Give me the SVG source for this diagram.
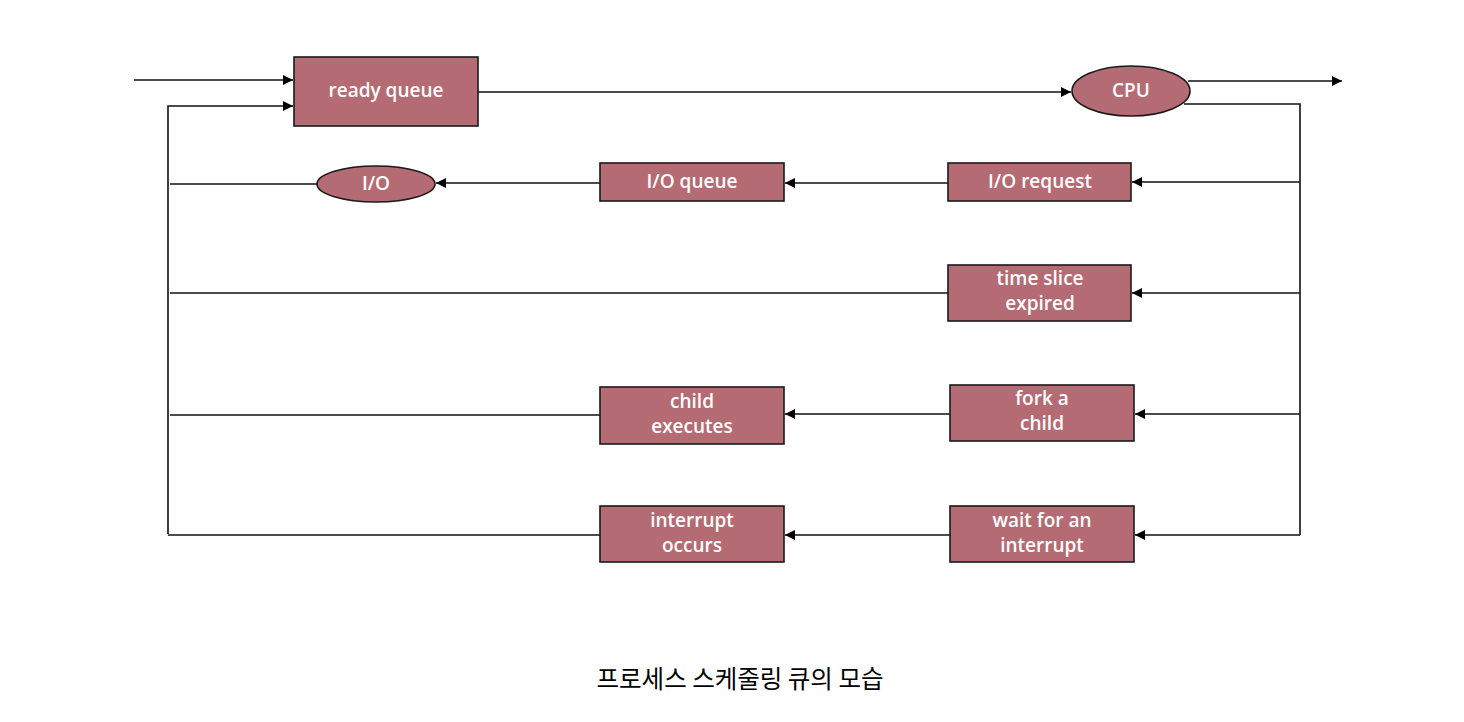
<svg xmlns="http://www.w3.org/2000/svg" width="1464" height="722" viewBox="0 0 1464 722">
<style>
.box{fill:#b56b73;stroke:#1a1a1a;stroke-width:1.6}
.lbl{font-family:"Open Sans","Noto Sans",sans-serif;font-weight:600;font-size:19px;fill:#ffffff;text-anchor:middle}
.ln{fill:none;stroke:#111;stroke-width:1.6}
.cap{font-family:"Noto Sans CJK KR","Noto Sans",sans-serif;font-size:24.5px;fill:#000;text-anchor:middle}
</style>
<defs>
<marker id="ah" viewBox="0 0 10 10" refX="10" refY="5" markerWidth="10" markerHeight="10" markerUnits="userSpaceOnUse" orient="auto">
<path d="M0,0 L10,5 L0,10 z" fill="#000"/>
</marker>
</defs>
<rect width="1464" height="722" fill="#fff"/>
<g id="connectors">
<path class="ln" d="M134,80 H293" marker-end="url(#ah)"/>
<path class="ln" d="M168,534 V106 H293" marker-end="url(#ah)"/>
<path class="ln" d="M478,92 H1071" marker-end="url(#ah)"/>
<path class="ln" d="M1188,81 H1342" marker-end="url(#ah)"/>
<path class="ln" d="M1184,104 H1300 V535"/>
<path class="ln" d="M1300,182 H1132" marker-end="url(#ah)"/>
<path class="ln" d="M948,183 H785" marker-end="url(#ah)"/>
<path class="ln" d="M600,183 H436" marker-end="url(#ah)"/>
<path class="ln" d="M317,184 H170"/>
<path class="ln" d="M1300,293 H1132" marker-end="url(#ah)"/>
<path class="ln" d="M948,293 H170"/>
<path class="ln" d="M1300,414 H1135" marker-end="url(#ah)"/>
<path class="ln" d="M950,414 H785" marker-end="url(#ah)"/>
<path class="ln" d="M600,415 H170"/>
<path class="ln" d="M1300,535 H1135" marker-end="url(#ah)"/>
<path class="ln" d="M950,535 H785" marker-end="url(#ah)"/>
<path class="ln" d="M600,535 H168"/>
</g>
<g id="ready-queue">
<rect class="box" x="294" y="57" width="184" height="69"/>
<text class="lbl" x="386" y="97">ready queue</text>
</g>
<g id="cpu">
<ellipse class="box" cx="1131" cy="91" rx="59" ry="25"/>
<text class="lbl" x="1131" y="97">CPU</text>
</g>
<g id="io-request">
<rect class="box" x="948" y="163" width="183" height="38"/>
<text class="lbl" x="1040" y="188">I/O request</text>
</g>
<g id="io-queue">
<rect class="box" x="600" y="163" width="184" height="38"/>
<text class="lbl" x="692" y="188">I/O queue</text>
</g>
<g id="io">
<ellipse class="box" cx="376" cy="184" rx="59" ry="18"/>
<text class="lbl" x="376" y="190">I/O</text>
</g>
<g id="time-slice">
<rect class="box" x="948" y="265" width="183" height="56"/>
<text class="lbl" x="1040" y="285">time slice</text>
<text class="lbl" x="1040" y="310">expired</text>
</g>
<g id="fork-child">
<rect class="box" x="950" y="385" width="184" height="56"/>
<text class="lbl" x="1042" y="405">fork a</text>
<text class="lbl" x="1042" y="430">child</text>
</g>
<g id="child-executes">
<rect class="box" x="600" y="387" width="184" height="57"/>
<text class="lbl" x="692" y="408">child</text>
<text class="lbl" x="692" y="433">executes</text>
</g>
<g id="wait-interrupt">
<rect class="box" x="950" y="506" width="184" height="56"/>
<text class="lbl" x="1042" y="527">wait for an</text>
<text class="lbl" x="1042" y="552">interrupt</text>
</g>
<g id="interrupt-occurs">
<rect class="box" x="600" y="506" width="184" height="56"/>
<text class="lbl" x="692" y="527">interrupt</text>
<text class="lbl" x="692" y="552">occurs</text>
</g>
<text class="cap" x="740" y="688">프로세스 스케줄링 큐의 모습</text>
</svg>
